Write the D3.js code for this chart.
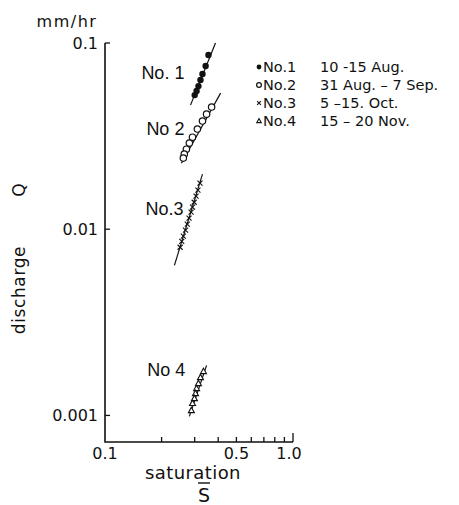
<!DOCTYPE html>
<html>
<head>
<meta charset="utf-8">
<script src="https://cdn.jsdelivr.net/npm/d3@7"></script>
<style>
  body { margin: 0; background: #fff; }
  text { font-family: "DejaVu Sans", sans-serif; fill: #111; }
</style>
</head>
<body>
<script>
// saturation S vs discharge Q, four recession periods
var sat1 = [0.355, 0.343, 0.330, 0.322, 0.314, 0.307, 0.300];
var q1   = [0.0862, 0.0752, 0.0681, 0.0633, 0.0587, 0.0552, 0.0525];
var fit1 = [[0.285, 0.0464], [0.387, 0.1]];

var sat2 = [0.369, 0.347, 0.330, 0.310, 0.292, 0.281, 0.271, 0.264, 0.261];
var q2   = [0.0453, 0.0415, 0.0381, 0.0345, 0.0312, 0.0290, 0.0269, 0.0253, 0.0241];
var fit2 = [[0.255, 0.0226], [0.412, 0.0538]];

var sat3 = [0.320, 0.312, 0.305, 0.298, 0.292, 0.287, 0.280, 0.274, 0.268, 0.261, 0.256, 0.251];
var q3   = [0.01767, 0.01622, 0.01504, 0.01396, 0.01313, 0.01234, 0.01146, 0.01064, 0.00988, 0.00917, 0.00861, 0.00800];
var fit3 = [[0.234, 0.0064], [0.330, 0.01976]];

var sat4 = [0.334, 0.322, 0.314, 0.307, 0.303, 0.299, 0.292, 0.288];
var q4   = [0.001724, 0.00160, 0.001486, 0.001397, 0.001313, 0.001234, 0.001161, 0.001064];
var fit4 = [[0.281, 0.000988], [0.347, 0.001858]];

var seriesNames = ["No. 1", "No 2", "No.3", "No 4"];
var legendNames = ["No.1", "No.2", "No.3", "No.4"];
var legendDates = ["10 -15 Aug.", "31 Aug. \u2013 7 Sep.", "5 \u201315. Oct.", "15 \u2013 20 Nov."];
var yTicks = [0.1, 0.01, 0.001];
var yTickLabels = ["0.1", "0.01", "0.001"];
var xTicks = [0.2, 0.3, 0.4, 0.5, 0.6, 0.7, 0.8, 0.9, 1.0];
var xLabelVals = [0.1, 0.5, 1.0];
var xLabels = ["0.1", "0.5", "1.0"];

var width = 459, height = 505;
var svg = d3.select("body").append("svg").attr("width", width).attr("height", height);

var x = d3.scaleLog().domain([0.1, 1.0]).range([105, 293]);
var y = d3.scaleLog().domain([0.00072, 0.1]).range([442, 43]);
var yMin = 0.00072;

// axes
var axisG = svg.append("g");
axisG.append("path")
    .attr("d", "M" + x(0.1) + "," + y(0.1) + "V" + y(yMin) + "H" + x(1.0))
    .attr("fill", "none").attr("stroke", "#111").attr("stroke-width", 1.6);

axisG.selectAll(".ytick").data(yTicks).enter().append("line")
    .attr("x1", x(0.1)).attr("x2", x(0.1) + 5)
    .attr("y1", d => y(d)).attr("y2", d => y(d))
    .attr("stroke", "#111").attr("stroke-width", 1.3);

axisG.selectAll(".ylab").data(yTicks).enter().append("text")
    .attr("x", x(0.1) - 7).attr("y", d => y(d) + 6)
    .attr("text-anchor", "end").attr("font-size", 16)
    .text((d, i) => yTickLabels[i]);

axisG.selectAll(".xtick").data(xTicks).enter().append("line")
    .attr("x1", d => x(d)).attr("x2", d => x(d))
    .attr("y1", y(yMin)).attr("y2", d => y(yMin) - (d == 1.0 ? 9 : 5))
    .attr("stroke", "#111").attr("stroke-width", 1.3);

axisG.selectAll(".xlab").data(xLabelVals).enter().append("text")
    .attr("x", (d, i) => x(d) - (i == 2 ? 4 : 0)).attr("y", y(yMin) + 17)
    .attr("text-anchor", "middle").attr("font-size", 16)
    .text((d, i) => xLabels[i]);

// axis titles
svg.append("text").attr("x", 67).attr("y", 27).attr("text-anchor", "middle")
    .attr("font-size", 16).attr("letter-spacing", 1.5).text("mm/hr");
svg.append("text").attr("transform", "translate(25,290) rotate(-90)")
    .attr("text-anchor", "middle").attr("font-size", 17).attr("letter-spacing", 0.6).text("discharge");
svg.append("text").attr("transform", "translate(25,190) rotate(-90)")
    .attr("text-anchor", "middle").attr("font-size", 17).text("Q");
svg.append("text").attr("x", 193).attr("y", 479).attr("text-anchor", "middle")
    .attr("font-size", 18).attr("letter-spacing", 0.4).text("saturation");
svg.append("text").attr("x", 204).attr("y", 502).attr("text-anchor", "middle")
    .attr("font-size", 19).text("S");
svg.append("line").attr("x1", 198).attr("x2", 210).attr("y1", 483).attr("y2", 483)
    .attr("stroke", "#111").attr("stroke-width", 1.4);

// fit lines
var line = d3.line().x(d => x(d[0])).y(d => y(d[1]));
var fits = [fit1, fit2, fit3, fit4];
svg.selectAll(".fit").data(fits).enter().append("path")
    .attr("d", line).attr("fill", "none").attr("stroke", "#111").attr("stroke-width", 1.2);

// markers
function drawMarker(g, type, cx, cy, s) {
  if (type == 0) {
    g.append("circle").attr("cx", cx).attr("cy", cy).attr("r", 3.2 * s).attr("fill", "#111");
  } else if (type == 1) {
    g.append("circle").attr("cx", cx).attr("cy", cy).attr("r", 3.2 * s)
      .attr("fill", "#fff").attr("stroke", "#111").attr("stroke-width", 1.2);
  } else if (type == 2) {
    var h = 2.5 * s;
    g.append("path").attr("d", "M" + (cx - h) + "," + (cy - h) + "L" + (cx + h) + "," + (cy + h) +
        "M" + (cx + h) + "," + (cy - h) + "L" + (cx - h) + "," + (cy + h))
      .attr("stroke", "#111").attr("stroke-width", 1.1);
  } else {
    g.append("path").attr("d", "M" + cx + "," + (cy - 3.2 * s) + "L" + (cx + 3 * s) + "," + (cy + 2.2 * s) +
        "L" + (cx - 3 * s) + "," + (cy + 2.2 * s) + "Z")
      .attr("fill", "#fff").attr("stroke", "#111").attr("stroke-width", 1.1);
  }
}

var sats = [sat1, sat2, sat3, sat4];
var qs = [q1, q2, q3, q4];
var ptsG = svg.append("g");
sats.forEach(function(s, k) {
  s.forEach(function(v, i) { drawMarker(ptsG, k, x(v), y(qs[k][i]), 1); });
});

// series labels next to each line (right edge / baseline)
var labelSat = [0.2645, 0.2645, 0.262, 0.267];
var labelQ = [0.064, 0.032, 0.0119, 0.00162];
svg.selectAll(".slab").data(seriesNames).enter().append("text")
    .attr("x", (d, i) => x(labelSat[i])).attr("y", (d, i) => y(labelQ[i]))
    .attr("text-anchor", "end").attr("font-size", 18)
    .style("font-family", "'Liberation Sans', Arial, sans-serif")
    .text(d => d);

// legend
var leg = svg.append("g");
legendNames.forEach(function(n, i) {
  var ly = 67 + i * 18;
  drawMarker(leg, i, 259, ly, 0.75);
  leg.append("text").attr("x", 263).attr("y", ly + 5).attr("font-size", 14.5).text(n);
  leg.append("text").attr("x", 320).attr("y", ly + 5).attr("font-size", 14.5).text(legendDates[i]);
});
</script>
</body>
</html>
